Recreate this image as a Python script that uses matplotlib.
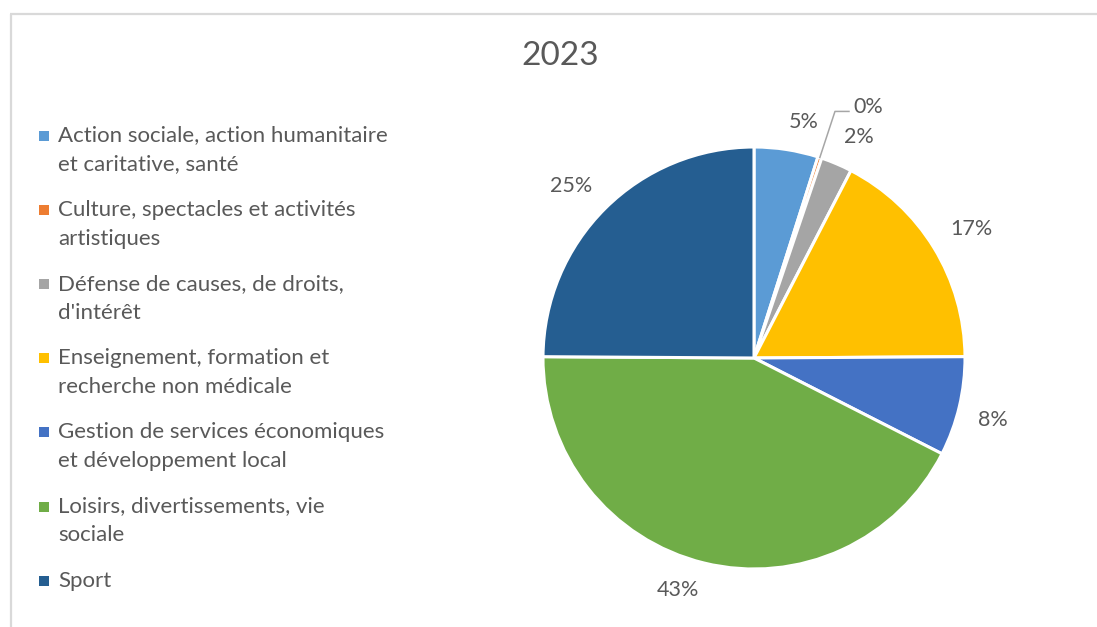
import numpy as np
import matplotlib
matplotlib.use("Agg")
import matplotlib.pyplot as plt

# ---- data ----
categories = [
    "Action sociale, action humanitaire\net caritative, santé",
    "Culture, spectacles et activités\nartistiques",
    "Défense de causes, de droits,\nd'intérêt",
    "Enseignement, formation et\nrecherche non médicale",
    "Gestion de services économiques\net développement local",
    "Loisirs, divertissements, vie\nsociale",
    "Sport",
]
values = [4.9, 0.3, 2.4, 17.3, 7.6, 42.6, 24.9]
colors = ["#5B9BD5", "#ED7D31", "#A5A5A5", "#FFC000", "#4472C4", "#70AD47", "#255E91"]
title = "2023"

W, H = 1097, 627
plt.rcParams['font.family'] = ['Lato', 'DejaVu Sans']
TXT = "#595959"

fig = plt.figure(figsize=(W / 100, H / 100), dpi=100)
ax = fig.add_axes([0, 0, 1, 1])


def Y(py):
    return H - py


# pie geometry (pixel layout)
cx, cy, R = 754, Y(358), 211

wedges, _ = ax.pie(values, colors=colors, startangle=90, counterclock=False,
                   center=(cx, cy), radius=R,
                   wedgeprops=dict(edgecolor="white", linewidth=2.2))
ax.set_xlim(0, W)
ax.set_ylim(0, H)
ax.set_aspect("equal")
ax.axis("off")

# frame lines (top and left visible)
ax.plot([10, W], [Y(13.5), Y(13.5)], color="#D9D9D9", lw=1.6, solid_capstyle="butt")
ax.plot([10.5, 10.5], [Y(13.5), 0], color="#D9D9D9", lw=1.6, solid_capstyle="butt")

# title
ax.text(560, Y(56), title, ha="center", va="center", fontsize=24, color=TXT)

# data labels (outside end: label corner touches a point beyond the rim)
fig.canvas.draw()
renderer = fig.canvas.get_renderer()
lab_fs = 15.5
gap = 19
for w, v in zip(wedges, values):
    mid = np.deg2rad((w.theta1 + w.theta2) / 2)
    ux, uy = np.cos(mid), np.sin(mid)
    label = f"{v:.0f}%"
    if round(v) == 0:
        x0, y0 = cx + R * ux, cy + R * uy
        ex, ey = cx + 1.23 * R * ux, cy + 1.23 * R * uy
        ax.plot([x0, ex, ex + 14], [y0, ey, ey], color="#A6A6A6", lw=1.1)
        ax.text(ex + 18, ey + 4, label, ha="left", va="center",
                fontsize=lab_fs, color=TXT)
        continue
    t = ax.text(0, 0, label, ha="center", va="center", fontsize=lab_fs, color=TXT)
    bb = t.get_window_extent(renderer)
    hw, hh = bb.width / 2, 9
    px = cx + (R + gap) * ux + hw * np.sign(ux)
    py = cy + (R + gap) * uy + hh * np.sign(uy)
    t.set_position((px, py))

# legend (manual, marker aligned to first line)
leg_x_marker, leg_x_text, leg_y0, leg_dy = 44, 58, 135.5, 74.2
for i, (c, name) in enumerate(zip(colors, categories)):
    yy = Y(leg_y0 + i * leg_dy)
    ax.scatter([leg_x_marker], [yy], marker="s", s=48, color=c, linewidths=0)
    ax.text(leg_x_text, yy + 10, name, ha="left", va="top", fontsize=16,
            color=TXT, linespacing=1.56)

fig.savefig("out.png", dpi=100)
